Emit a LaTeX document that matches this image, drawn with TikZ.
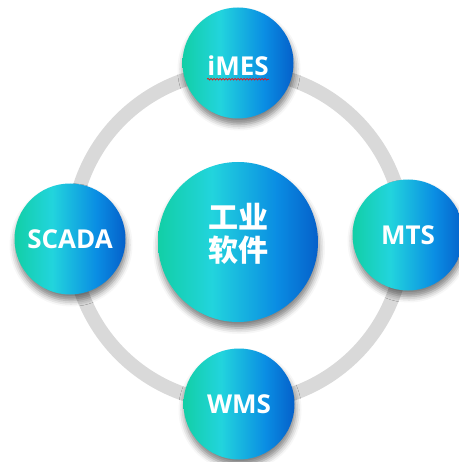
\documentclass[tikz,border=0pt]{standalone}
\usepackage{fontspec}
\setmainfont{Open Sans}
\newfontfamily\cjkfont{Noto Sans CJK SC}
\usetikzlibrary{shadows.blur,decorations.pathmorphing}
\definecolor{g1}{HTML}{12CFA6}
\definecolor{g2}{HTML}{22D4DD}
\definecolor{g3}{HTML}{0A8DE3}
\definecolor{g4}{HTML}{0560CA}
\definecolor{ringgray}{HTML}{D9D9D9}
\pgfdeclarehorizontalshading{bluegrad}{100bp}{color(0bp)=(g1); color(25bp)=(g1); color(42bp)=(g2); color(62bp)=(g3); color(75bp)=(g4); color(100bp)=(g4)}
\tikzset{
  lbl/.style={text=white, inner sep=0pt, font=\bfseries\fontsize{26}{30}\selectfont},
  ball/.style={circle, shading=bluegrad, inner sep=0pt, lbl,
    blur shadow={shadow xshift=1pt, shadow yshift=-6pt, shadow blur radius=6pt, shadow opacity=50}},
  small/.style={ball, minimum size=111pt},
  big/.style={ball, minimum size=160pt},
  cjklbl/.style={lbl, font=\cjkfont\bfseries\fontsize{30}{33}\selectfont, align=center}
}
\begin{document}
\begin{tikzpicture}[x=1pt,y=-1pt]
\useasboundingbox (0,0) rectangle (458,462);
\coordinate (o) at (238,237);
\draw[ringgray, line width=14pt] (o) circle[radius=166];
\node[big] (core) at (238,242) {};
\node[cjklbl] (coret) at (238,234) {工业\\软件};
\node[small] (imes) at (238,63) {};
\node[lbl] (imest) at (238,66) {iMES};
\draw[red, line width=0.6pt, decorate, decoration={snake, amplitude=0.9pt, segment length=3pt}] ([yshift=-3pt]imest.south west) -- ([yshift=-3pt]imest.south east);
\node[small] (scada) at (70,239) {SCADA};
\node[small] (mts) at (408,235) {MTS};
\node[small] (wms) at (239,404) {WMS};
\end{tikzpicture}
\end{document}
